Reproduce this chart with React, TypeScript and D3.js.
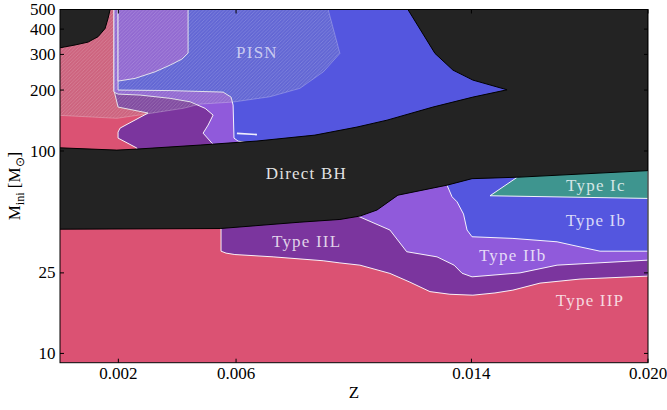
import React from "react";
import * as d3 from "d3";

const WIDTH = 667;
const HEIGHT = 410;

// ---- axis ticks ----
const zTicks = [0.002, 0.006, 0.014, 0.02];
const zTickLabels = ["0.002", "0.006", "0.014", "0.020"];
const mTicks = [10, 25, 100, 200, 300, 400, 500];
const mTickLabels = ["10", "25", "100", "200", "300", "400", "500"];

// ---- region outlines, points are [Z, M_ini] ----
const bhCorner: [number, number][] = [
  [0, 500], [0, 323], [0.00053, 334], [0.00097, 345], [0.00131, 367],
  [0.00155, 403], [0.00165, 452], [0.00172, 500],
];

const bhBand: [number, number][] = [
  [0, 103.7], [0.00195, 101], [0.00263, 102.2], [0.00478, 107], [0.00671, 112],
  [0.00868, 119.8], [0.01011, 131.3], [0.01113, 142], [0.01269, 164.8],
  [0.01405, 184.6], [0.01521, 200.6],
  [0.01405, 224], [0.01337, 251], [0.01276, 303.5], [0.01184, 500],
  [0.02, 500], [0.02, 80],
  [0.01565, 74.3], [0.01402, 73.0], [0.01317, 67.8], [0.0115, 60.5],
  [0.01079, 51.1], [0.01021, 47.7], [0.00953, 45.9], [0.00817, 44.5],
  [0.00546, 41.4], [0, 41.1],
];

const iilLower: [number, number][] = [
  [0.00549, 100], [0.02, 100], [0.02, 24.1], [0.01769, 23.3], [0.01633, 22.25],
  [0.01541, 20.55], [0.0148, 19.9], [0.01405, 19.4], [0.01327, 19.6],
  [0.01259, 20.2], [0.01191, 22.5], [0.01123, 24.85], [0.01021, 27.3],
  [0.00953, 28.0], [0.00896, 28.7], [0.00726, 30.0], [0.00596, 30.8],
  [0.00566, 31.3], [0.00549, 32.0],
];

const iilUpper: [number, number][] = [
  [0.00185, 500], [0.00613, 500], [0.00613, 90], [0.00263, 95], [0.00263, 103.4],
  [0.00199, 115.8], [0.00199, 124], [0.00206, 129.8], [0.00301, 154],
  [0.00199, 164.8], [0.00185, 200],
];

const iibLower: [number, number][] = [
  [0.01014, 100], [0.01014, 47.7], [0.01123, 40.7], [0.0118, 31.8],
  [0.01283, 30.0], [0.01341, 27.3], [0.01368, 24.9], [0.01402, 23.9],
  [0.01565, 25.0], [0.01691, 27.3], [0.02, 28.9], [0.02, 100],
];

const iibUpper: [number, number][] = [
  [0.00185, 500], [0.00613, 500], [0.00613, 90], [0.00529, 90], [0.00529, 105.7],
  [0.00518, 109.4], [0.00488, 122.5], [0.00505, 134.3], [0.00522, 150.5],
  [0.00495, 162.4], [0.00444, 175], [0.00376, 182], [0.00274, 188.9],
  [0.00199, 191], [0.00185, 195.4],
];

const iibTop: [number, number][] = [
  [0.00199, 500], [0.00437, 500], [0.00437, 304.6], [0.00416, 284.4],
  [0.00376, 265.7], [0.00325, 246.2], [0.00257, 228.4], [0.00199, 221.5],
];

const ibLower: [number, number][] = [
  [0.01317, 100], [0.01317, 67.8], [0.01334, 59.4], [0.01351, 56.1],
  [0.01373, 48.8], [0.01385, 40.7], [0.01402, 37.7], [0.01541, 37.0],
  [0.01691, 35.6], [0.01769, 33.6], [0.01837, 32.0], [0.02, 32.0], [0.02, 100],
];

const ibUpper: [number, number][] = [
  [0.00199, 500], [0.015, 500], [0.0165, 160], [0.0121, 130], [0.0085, 112],
  [0.00671, 108], [0.00607, 111.9], [0.00593, 115.8], [0.0059, 168.6],
  [0.00583, 184.6], [0.00556, 195.4], [0.00376, 198.8], [0.00199, 200],
];

const icRegion: [number, number][] = [
  [0.01463, 60.1], [0.01555, 74.1], [0.01555, 100], [0.02, 100], [0.02, 58.3],
];

const sliver: [number, number][] = [[0.00603, 122.2], [0.00671, 120.5]];

const pisnRegion: [number, number][] = [
  [0, 500], [0.00913, 500], [0.00953, 303.5], [0.00897, 246.2], [0.00817, 203.9],
  [0.00715, 185.3], [0.0059, 174.5], [0.00478, 170.5], [0.0042, 162.4],
  [0.00308, 153.4], [0.00195, 145], [0, 150],
];

// ---- region labels (text, Z, M) ----
const labelTexts = ["PISN", "Direct BH", "Type IIL", "Type IIb", "Type Ic", "Type Ib", "Type IIP"];
const labelZ = [0.00671, 0.00839, 0.0084, 0.0154, 0.01823, 0.01823, 0.01803];
const labelM = [287.7, 72.6, 33.6, 28.7, 63.6, 42.6, 17.1];

const C_IIP = "#db5273";
const C_IIL = "#7b359e";
const C_IIB = "#905adb";
const C_IB = "#5456df";
const C_IC = "#3e958f";
const C_BH = "#232323";

const FONT = "'Liberation Serif', 'Times New Roman', serif";

export default function App() {
  const L = 60, R = 648, T = 9.5, B = 362.7;
  const x = d3.scaleLinear().domain([0, 0.02]).range([59.5, 648]);
  const y = d3.scaleLog().domain([9, 500]).range([B, T]);
  const line = d3
    .line<[number, number]>()
    .x((d) => x(d[0]))
    .y((d) => y(d[1]));
  const poly = (pts: [number, number][]) => (line(pts) || "") + "Z";

  const region = (pts: [number, number][], fill: string, key: string) => (
    <path key={key} d={poly(pts)} fill={fill} stroke="#ffffff" strokeOpacity={0.92} strokeWidth={1} strokeLinejoin="round" />
  );

  return (
    <svg
      width={WIDTH}
      height={HEIGHT}
      style={{ position: "absolute", left: 0, top: 0, background: "#fff" }}
      fontFamily={FONT}
    >
      <defs>
        <clipPath id="plot">
          <rect x={L} y={T} width={R - L} height={B - T} />
        </clipPath>
        <pattern id="hatch" patternUnits="userSpaceOnUse" width={3.5} height={3.5}>
          <path d="M-1,1 L1,-1 M0,3.5 L3.5,0 M2.5,4.5 L4.5,2.5" stroke="#ffffff" strokeOpacity={0.2} strokeWidth={0.8} />
        </pattern>
      </defs>

      <g clipPath="url(#plot)">
        <rect x={L} y={T} width={R - L} height={B - T} fill={C_IIP} />
        {region(iilLower, C_IIL, "iilL")}
        {region(iilUpper, C_IIL, "iilU")}
        {region(iibLower, C_IIB, "iibL")}
        {region(iibUpper, C_IIB, "iibU")}
        {region(ibLower, C_IB, "ibL")}
        {region(ibUpper, C_IB, "ibU")}
        {region(iibTop, C_IIB, "iibT")}
        {region(icRegion, C_IC, "ic")}
        <path d={line(sliver) || ""} stroke="#ffffff" strokeOpacity={0.9} strokeWidth={1.6} fill="none" />
        <path d={poly(pisnRegion)} fill="#9aa2ae" fillOpacity={0.22} stroke="none" />
        <path d={poly(pisnRegion)} fill="url(#hatch)" stroke="#ffffff" strokeOpacity={0.25} strokeWidth={1} />
        <path d={poly(bhCorner)} fill={C_BH} stroke="#000" strokeWidth={1} />
        <path d={poly(bhBand)} fill={C_BH} stroke="#000" strokeWidth={1} />
        {labelTexts.map((t, i) => (
          <text
            key={t}
            x={x(labelZ[i])}
            y={y(labelM[i])}
            textAnchor="middle"
            fontSize={17}
            letterSpacing={1.2}
            fill={i === 0 ? "#d6d8f4" : "#ffffff"}
            fillOpacity={i === 0 ? 0.9 : i === 1 ? 0.88 : 0.78}
          >
            {t}
          </text>
        ))}
      </g>

      {/* frame */}
      <rect x={L} y={T} width={R - L} height={B - T} fill="none" stroke="#000" strokeWidth={1} />

      {/* x ticks */}
      {zTicks.map((t, i) => (
        <g key={"zt" + i}>
          <line x1={x(t)} x2={x(t)} y1={B} y2={B - 4} stroke="#000" strokeWidth={1} />
          <line x1={x(t)} x2={x(t)} y1={T} y2={T + 4} stroke="#000" strokeWidth={1} />
          <text x={x(t)} y={379} textAnchor="middle" fontSize={17} fill="#000">
            {zTickLabels[i]}
          </text>
        </g>
      ))}

      {/* y ticks */}
      {mTicks.map((t, i) => (
        <g key={"mt" + i}>
          <line x1={L} x2={L + 4} y1={y(t)} y2={y(t)} stroke="#000" strokeWidth={1} />
          <line x1={R} x2={R - 4} y1={y(t)} y2={y(t)} stroke="#000" strokeWidth={1} />
          <text x={55.5} y={y(t) + 5.6} textAnchor="end" fontSize={17} fill="#000">
            {mTickLabels[i]}
          </text>
        </g>
      ))}

      {/* axis labels */}
      <text x={354} y={398} textAnchor="middle" fontSize={17} fill="#000">Z</text>
      <text transform="translate(20,186) rotate(-90)" textAnchor="middle" fontSize={17} fill="#000">
        M<tspan fontSize={12} dy={4}>ini</tspan>
        <tspan dy={-4}> [M</tspan>
        <tspan fontSize={12} dy={4}>⊙</tspan>
        <tspan dy={-4}>]</tspan>
      </text>
    </svg>
  );
}
